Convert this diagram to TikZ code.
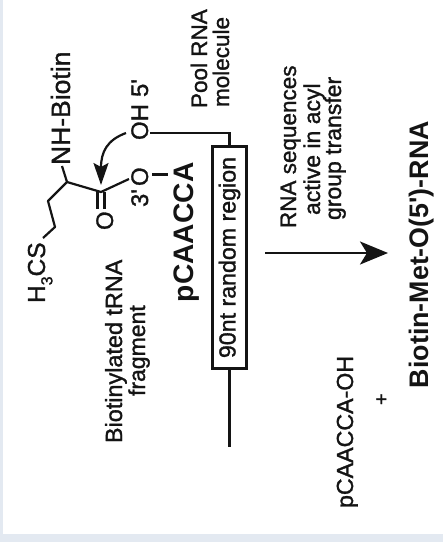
\documentclass[tikz,border=0pt]{standalone}
\usepackage{fontspec}
\newfontfamily\medf[FakeBold=1.3]{Liberation Sans}
\newfontfamily\bldf{Liberation Sans}
\usetikzlibrary{arrows.meta}
\definecolor{edge}{HTML}{E3E9F1}
\definecolor{ink}{HTML}{141414}
\tikzset{
  txt/.style={rotate=90,inner sep=0pt,outer sep=0pt,text=ink,anchor=base west},
  reg/.style={font=\medf\fontsize{#1}{#1}\selectfont},
  bld/.style={font=\bldf\bfseries\fontsize{#1}{#1}\selectfont},
  bond/.style={draw=ink,line width=2.2pt,line join=round},
  wire/.style={draw=ink,line width=2.4pt},
  rbox/.style={draw=ink,line width=2.7pt,rotate=90,minimum width=222pt,minimum height=34pt,inner sep=0pt,text=ink,font=\medf\fontsize{23.2}{23.2}\selectfont}
}
\begin{document}
\begin{tikzpicture}[x=1pt,y=-1pt]
\useasboundingbox (0,0) rectangle (443,542);
\fill[edge] (0,0) rectangle (443,542);
\fill[white] (3,0) rectangle (443,534);
% labels
\node[txt,reg=24.5] (h3cs) at (45,303) {H\raisebox{-0.3em}{\fontsize{16}{16}\selectfont 3}CS};
\node[txt,reg=26.5] (nh) at (70,165) {NH-Biotin};
\node[txt,reg=22.5] (pool) at (207,108) {Pool RNA};
\node[txt,reg=22.5] (mol) at (229,107) {molecule};
\node[txt,reg=23.4] (bt) at (122,443) {Biotinylated tRNA};
\node[txt,reg=23] (frag) at (145,396) {fragment};
\node[txt,bld=28.2] (pc) at (193,302) {pCAACCA};
\node[txt,reg=24] (oh) at (148,140) {OH};
\node[txt,reg=24] (five) at (148,97) {5'};
\node[txt,reg=24] (three) at (148,207) {3'};
\node[txt,reg=24] (othree) at (148,186) {O};
\node[txt,reg=24] (ocarb) at (113,230) {O};
\node[rbox] (box) at (229.5,257.5) {90nt random region};
\node[txt,reg=22.5] (s1) at (296,228) {RNA sequences};
\node[txt,reg=23] (s2) at (320,215) {active in acyl};
\node[txt,reg=23] (s3) at (341,220) {group transfer};
\node[txt,bld=26.8] (prod) at (428,388) {Biotin-Met-O(5')-RNA};
\node[txt,reg=23.2] (rel) at (353,508) {pCAACCA-OH};
\node[txt,reg=20] (plus) at (388,405) {+};
% chemistry vertices
\coordinate (a) at (43,238);
\coordinate (b) at (55,227);
\coordinate (c) at (48,201);
\coordinate (d) at (67,182);
\coordinate (e) at (62,166);
\coordinate (f) at (101,192);
\coordinate (g) at (129,179);
\coordinate (bar1) at (152,174);
\coordinate (bar2) at (168,174);
\coordinate (ohend) at (150,133);
\coordinate (tail) at (229.5,447);
\coordinate (arrowstart) at (126,133);
\coordinate (arrowtip) at (101,185);
\coordinate (mainstart) at (265,253);
\coordinate (mainend) at (388,253);
\draw[bond] (a) -- (b) -- (c) -- (d) -- (e);
\draw[bond] (d) -- (f) -- (g);
\draw[bond] ([xshift=-3.5pt]f) -- ++(0,17);
\draw[bond] ([xshift=3.5pt]f) -- ++(0,17);
\draw[draw=ink,line width=3pt] (bar1) -- (bar2);
\draw[wire] (ohend) -| (box.east);
\draw[wire] (box.west) -- (tail);
\draw[bond,-{Stealth[length=22pt,width=15pt,inset=4pt]}] (arrowstart) .. controls (107,140) and (101,152) .. (arrowtip);
\draw[wire,-{Stealth[length=28pt,width=23pt,inset=7pt]}] (mainstart) -- (mainend);
\end{tikzpicture}
\end{document}
